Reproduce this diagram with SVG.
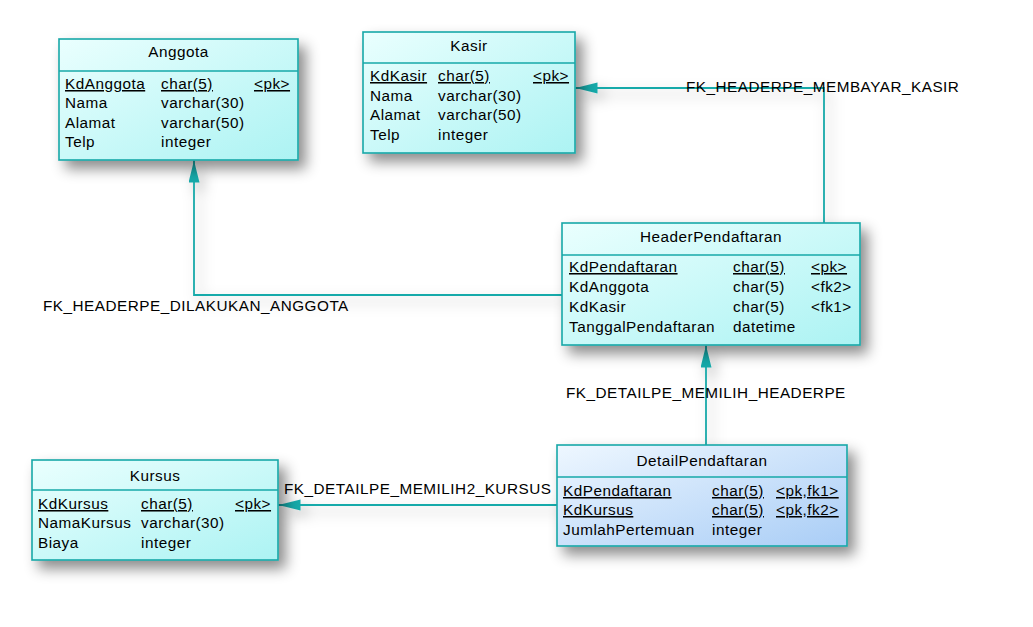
<svg xmlns="http://www.w3.org/2000/svg" width="1033" height="627" viewBox="0 0 1033 627">
<defs>
<linearGradient id="gCyan" x1="0" y1="0" x2="1" y2="1">
<stop offset="0" stop-color="#eafffe"/>
<stop offset="1" stop-color="#acf3f3"/>
</linearGradient>
<linearGradient id="gBlue" x1="0" y1="0" x2="1" y2="1">
<stop offset="0" stop-color="#eef7ff"/>
<stop offset="1" stop-color="#a9cdf6"/>
</linearGradient>
<filter id="sh" x="-20%" y="-20%" width="150%" height="160%">
<feDropShadow dx="7" dy="8" stdDeviation="7" flood-color="#000" flood-opacity="0.45"/>
</filter>
<filter id="shl" x="-20%" y="-50%" width="150%" height="250%">
<feDropShadow dx="5" dy="6" stdDeviation="7" flood-color="#000" flood-opacity="0.3"/>
</filter>
<marker id="arr" markerUnits="userSpaceOnUse" markerWidth="24" markerHeight="12" refX="22" refY="5.5" orient="auto">
<path d="M0,0 L22,5.5 L0,11 Z" fill="#17aaaa"/>
</marker>
<style>
text{font-family:"Liberation Sans",Arial,sans-serif;font-size:15.3px;fill:#000;letter-spacing:0.5px}
.t{text-anchor:middle}
.u{text-decoration:underline}
.box{stroke:#16a8a8;stroke-width:1.6}
.c{fill:url(#gCyan)}
.b{fill:url(#gBlue)}
.div{stroke:#16a8a8;stroke-width:1.6}
.con{fill:none;stroke:#17aaaa;stroke-width:1.8;marker-end:url(#arr)}
</style>
</defs>
<rect width="1033" height="627" fill="#fff"/>

<g id="connectors" filter="url(#shl)">
<polyline class="con" points="562,295 194,295 194,160.5"/>
<polyline class="con" points="824,223 824,88 575.5,88"/>
<polyline class="con" points="706,445 706,345.5"/>
<polyline class="con" points="557,505 278.5,505"/>
</g>
<g id="labels">
<text x="43" y="311">FK_HEADERPE_DILAKUKAN_ANGGOTA</text>
<text x="686" y="92">FK_HEADERPE_MEMBAYAR_KASIR</text>
<text x="566" y="398">FK_DETAILPE_MEMILIH_HEADERPE</text>
<text x="284" y="494">FK_DETAILPE_MEMILIH2_KURSUS</text>
</g>

<g id="Anggota">
<rect class="box c" x="59" y="39" width="239" height="121" filter="url(#sh)"/>
<line class="div" x1="59" y1="71" x2="298" y2="71"/>
<text class="t" x="178.5" y="57">Anggota</text>
<text class="u" x="65" y="89">KdAnggota</text><text class="u" x="161" y="89">char(5)</text><text class="u" x="254" y="89">&lt;pk&gt;</text>
<text x="65" y="108">Nama</text><text x="161" y="108">varchar(30)</text>
<text x="65" y="128">Alamat</text><text x="161" y="128">varchar(50)</text>
<text x="65" y="147">Telp</text><text x="161" y="147">integer</text>
</g>

<g id="Kasir">
<rect class="box c" x="363" y="32" width="212" height="121" filter="url(#sh)"/>
<line class="div" x1="363" y1="63" x2="575" y2="63"/>
<text class="t" x="469" y="51">Kasir</text>
<text class="u" x="370" y="81">KdKasir</text><text class="u" x="438" y="81">char(5)</text><text class="u" x="533" y="81">&lt;pk&gt;</text>
<text x="370" y="101">Nama</text><text x="438" y="101">varchar(30)</text>
<text x="370" y="120">Alamat</text><text x="438" y="120">varchar(50)</text>
<text x="370" y="140">Telp</text><text x="438" y="140">integer</text>
</g>

<g id="HeaderPendaftaran">
<rect class="box c" x="562" y="223" width="298" height="122" filter="url(#sh)"/>
<line class="div" x1="562" y1="255" x2="860" y2="255"/>
<text class="t" x="711" y="242">HeaderPendaftaran</text>
<text class="u" x="569" y="272">KdPendaftaran</text><text class="u" x="733" y="272">char(5)</text><text class="u" x="811" y="272">&lt;pk&gt;</text>
<text x="569" y="292">KdAnggota</text><text x="733" y="292">char(5)</text><text x="811" y="292">&lt;fk2&gt;</text>
<text x="569" y="312">KdKasir</text><text x="733" y="312">char(5)</text><text x="811" y="312">&lt;fk1&gt;</text>
<text x="569" y="332">TanggalPendaftaran</text><text x="733" y="332">datetime</text>
</g>

<g id="DetailPendaftaran">
<rect class="box b" x="557" y="445" width="290" height="101" filter="url(#sh)"/>
<line class="div" x1="557" y1="477" x2="847" y2="477"/>
<text class="t" x="702" y="466">DetailPendaftaran</text>
<text class="u" x="563" y="496">KdPendaftaran</text><text class="u" x="712" y="496">char(5)</text><text class="u" x="776" y="496">&lt;pk,fk1&gt;</text>
<text class="u" x="563" y="515">KdKursus</text><text class="u" x="712" y="515">char(5)</text><text class="u" x="776" y="515">&lt;pk,fk2&gt;</text>
<text x="563" y="535">JumlahPertemuan</text><text x="712" y="535">integer</text>
</g>

<g id="Kursus">
<rect class="box c" x="32" y="460" width="246" height="100" filter="url(#sh)"/>
<line class="div" x1="32" y1="490" x2="278" y2="490"/>
<text class="t" x="155" y="481">Kursus</text>
<text class="u" x="38" y="509">KdKursus</text><text class="u" x="141" y="509">char(5)</text><text class="u" x="235" y="509">&lt;pk&gt;</text>
<text x="38" y="528">NamaKursus</text><text x="141" y="528">varchar(30)</text>
<text x="38" y="548">Biaya</text><text x="141" y="548">integer</text>
</g>
</svg>
